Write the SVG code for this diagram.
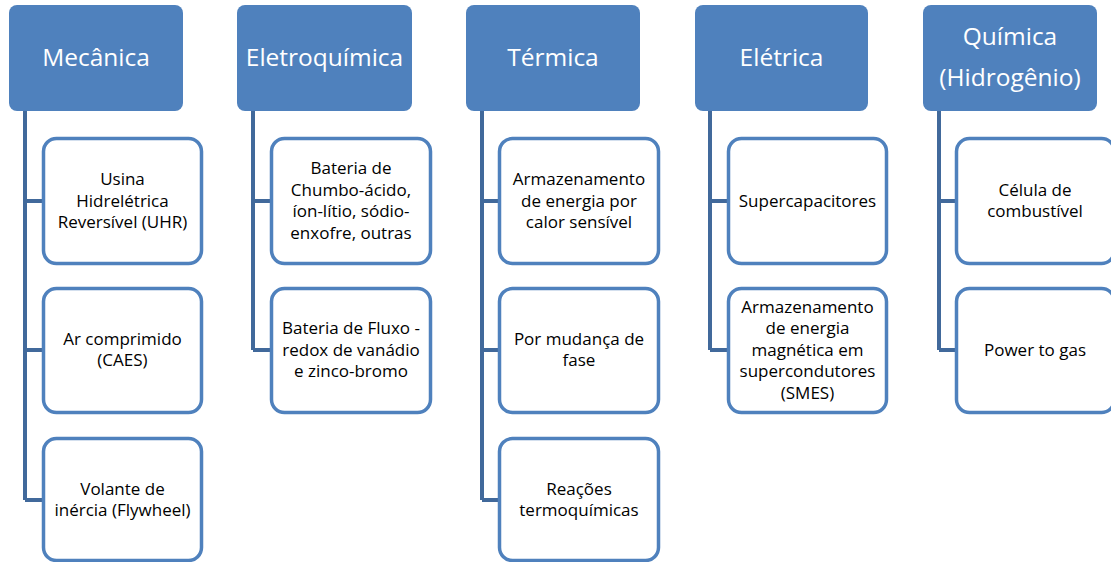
<svg xmlns="http://www.w3.org/2000/svg" width="1111" height="562" viewBox="0 0 1111 562">
<style>
.hd{fill:#4f81bd;}
.ht{fill:#ffffff;font-family:"Open Sans","Liberation Sans",sans-serif;font-size:24.5px;text-anchor:middle;}
.ch{fill:#ffffff;stroke:#4f81bd;stroke-width:3.5;}
.ct{fill:#000000;font-family:"Open Sans","Liberation Sans",sans-serif;font-size:17px;text-anchor:middle;}
.cn{fill:none;stroke:#41699b;stroke-width:4;}
</style>
<rect width="1111" height="562" fill="#ffffff"/>
<g id="connectors">
<path class="cn" d="M25 111V500M25 201H42M25 350H42M25 500H42"/>
<path class="cn" d="M253 111V350M253 201H270M253 350H270"/>
<path class="cn" d="M482 111V500M482 201H498M482 350H498M482 500H498"/>
<path class="cn" d="M710 111V350M710 201H727M710 350H727"/>
<path class="cn" d="M939 111V350M939 201H955M939 350H955"/>
</g>
<g id="mecanica">
<rect class="hd" x="9" y="5" width="174" height="106" rx="8"/>
<text class="ht" x="96" y="66">Mecânica</text>
</g>
<g id="uhr">
<rect class="ch" x="43.5" y="138.5" width="158" height="125" rx="13"/>
<text class="ct"><tspan x="122.5" y="185">Usina</tspan><tspan x="122.5" y="207">Hidrelétrica</tspan><tspan x="122.5" y="228">Reversível (UHR)</tspan></text>
</g>
<g id="caes">
<rect class="ch" x="43.5" y="288.5" width="158" height="124" rx="13"/>
<text class="ct"><tspan x="122.5" y="345">Ar comprimido</tspan><tspan x="122.5" y="366">(CAES)</tspan></text>
</g>
<g id="flywheel">
<rect class="ch" x="43.5" y="438.5" width="158" height="122" rx="13"/>
<text class="ct"><tspan x="122.5" y="495">Volante de</tspan><tspan x="122.5" y="516">inércia (Flywheel)</tspan></text>
</g>
<g id="eletroquimica">
<rect class="hd" x="237" y="5" width="175" height="106" rx="8"/>
<text class="ht" x="324.5" y="66">Eletroquímica</text>
</g>
<g id="chumbo">
<rect class="ch" x="271.5" y="138.5" width="159" height="125" rx="13"/>
<text class="ct"><tspan x="351" y="174">Bateria de</tspan><tspan x="351" y="196">Chumbo-ácido,</tspan><tspan x="351" y="217">íon-lítio, sódio-</tspan><tspan x="351" y="239">enxofre, outras</tspan></text>
</g>
<g id="fluxo">
<rect class="ch" x="271.5" y="288.5" width="159" height="124" rx="13"/>
<text class="ct"><tspan x="351" y="334">Bateria de Fluxo -</tspan><tspan x="351" y="356">redox de vanádio</tspan><tspan x="351" y="377">e zinco-bromo</tspan></text>
</g>
<g id="termica">
<rect class="hd" x="466" y="5" width="174" height="106" rx="8"/>
<text class="ht" x="553" y="66">Térmica</text>
</g>
<g id="sensivel">
<rect class="ch" x="499.5" y="138.5" width="159" height="125" rx="13"/>
<text class="ct"><tspan x="579" y="185">Armazenamento</tspan><tspan x="579" y="207">de energia por</tspan><tspan x="579" y="228">calor sensível</tspan></text>
</g>
<g id="fase">
<rect class="ch" x="499.5" y="288.5" width="159" height="124" rx="13"/>
<text class="ct"><tspan x="579" y="345">Por mudança de</tspan><tspan x="579" y="366">fase</tspan></text>
</g>
<g id="termoquimicas">
<rect class="ch" x="499.5" y="438.5" width="159" height="122" rx="13"/>
<text class="ct"><tspan x="579" y="495">Reações</tspan><tspan x="579" y="516">termoquímicas</tspan></text>
</g>
<g id="eletrica">
<rect class="hd" x="695" y="5" width="173" height="106" rx="8"/>
<text class="ht" x="781.5" y="66">Elétrica</text>
</g>
<g id="supercap">
<rect class="ch" x="728.5" y="138.5" width="158" height="125" rx="13"/>
<text class="ct"><tspan x="807.5" y="207">Supercapacitores</tspan></text>
</g>
<g id="smes">
<rect class="ch" x="728.5" y="288.5" width="158" height="124" rx="13"/>
<text class="ct"><tspan x="807.5" y="313">Armazenamento</tspan><tspan x="807.5" y="334">de energia</tspan><tspan x="807.5" y="356">magnética em</tspan><tspan x="807.5" y="377">supercondutores</tspan><tspan x="807.5" y="399">(SMES)</tspan></text>
</g>
<g id="quimica">
<rect class="hd" x="923" y="5" width="174" height="106" rx="8"/>
<text class="ht"><tspan x="1010" y="45">Química</tspan><tspan x="1010" y="86">(Hidrogênio)</tspan></text>
</g>
<g id="celula">
<rect class="ch" x="956.5" y="138.5" width="158" height="125" rx="13"/>
<text class="ct"><tspan x="1035" y="196">Célula de</tspan><tspan x="1035" y="217">combustível</tspan></text>
</g>
<g id="powertogas">
<rect class="ch" x="956.5" y="288.5" width="158" height="124" rx="13"/>
<text class="ct"><tspan x="1035" y="356">Power to gas</tspan></text>
</g>
</svg>
